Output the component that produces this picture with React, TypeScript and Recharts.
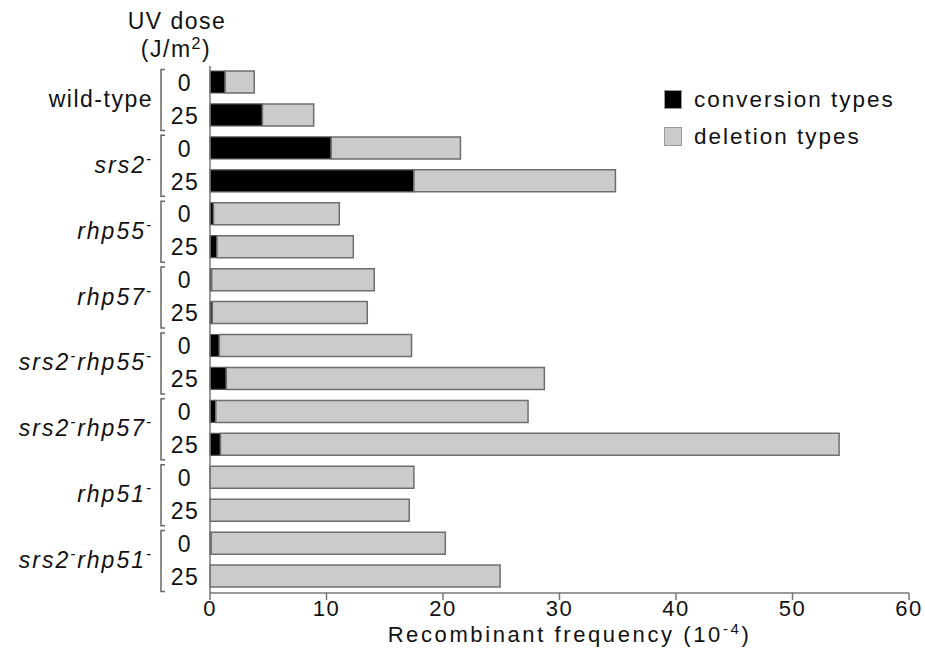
import React from "react";
import { Bar, BarChart, Legend, XAxis, YAxis } from "recharts";

// strain names, "^" marks a superscript minus
const strains = ["wild-type", "srs2^", "rhp55^", "rhp57^", "srs2^rhp55^", "srs2^rhp57^", "rhp51^", "srs2^rhp51^"];
const doses = ["0", "25"];

// one value per bar, in order strain x dose
const conversion = [1.3, 4.5, 10.4, 17.5, 0.3, 0.6, 0.15, 0.2, 0.8, 1.4, 0.5, 0.9, 0, 0, 0.1, 0];
const deletion = [2.5, 4.4, 11.1, 17.3, 10.8, 11.7, 13.95, 13.3, 16.5, 27.3, 26.8, 53.1, 17.5, 17.1, 20.1, 24.9];

const xTicks = [0, 10, 20, 30, 40, 50, 60];

const FONT = "'Liberation Sans', Arial, Helvetica, sans-serif";
const FRAME = "#777";

const data = strains.flatMap((s, i) =>
  doses.map((d, j) => {
    const k = i * doses.length + j;
    return { id: `${i}-${d}`, strain: s, dose: d, conversion: conversion[k], deletion: deletion[k] };
  })
);

function StrainText({ label, x, y }: { label: string; x: number; y: number }) {
  const italic = label !== "wild-type";
  const parts = italic ? label.split("^") : [label];
  const spans: React.ReactNode[] = [];
  let raised = false;
  parts.forEach((p, i) => {
    if (p) {
      spans.push(<tspan key={`t${i}`} dy={raised ? 9 : undefined}>{p}</tspan>);
      raised = false;
    }
    if (italic && i < parts.length - 1) {
      spans.push(<tspan key={`s${i}`} dy={-9} fontSize={15}>-</tspan>);
      raised = true;
    }
  });
  return (
    <text x={x} y={y + 8} textAnchor="end" fontFamily={FONT} fontSize={23} letterSpacing={italic ? 2 : 1.5}
      fontStyle={italic ? "italic" : "normal"} fill="#111">
      {spans}
    </text>
  );
}

function DoseTick(props: any) {
  const { x, y, payload } = props;
  const row = data.find((r) => r.id === payload.value);
  if (!row) return null;
  const left = x;
  return (
    <g>
      <text x={left - 25} y={y} dy="0.36em" textAnchor="middle" fontFamily={FONT} fontSize={23} letterSpacing={1.5} fill="#111">
        {row.dose}
      </text>
      {row.dose === doses[0] && (
        <g>
          <path d={`M${left - 45},${y - 13} H${left - 49} V${y + 48} H${left - 45}`} fill="none" stroke="#666" strokeWidth={1.5} />
          <StrainText label={row.strain} x={left - 57} y={y + 16.5} />
        </g>
      )}
    </g>
  );
}

function LegendBox(props: any) {
  const items = props.payload || [];
  return (
    <div style={{ fontFamily: FONT, fontSize: 22.5, letterSpacing: 2, color: "#111" }}>
      {items.map((it: any) => (
        <div key={it.value} style={{ display: "flex", alignItems: "center", height: 37 }}>
          <span style={{ width: 16, height: 17, background: it.color, border: "1px solid #999", marginRight: 12 }} />
          <span>{it.value}</span>
        </div>
      ))}
    </div>
  );
}

function XLabel(props: any) {
  const { viewBox } = props;
  const cx = viewBox.x + viewBox.width / 2 + 10;
  return (
    <text x={cx} y={634} dy="0.35em" textAnchor="middle" fontFamily={FONT} fontSize={22} letterSpacing={2.6} fill="#111">
      Recombinant frequency (10
      <tspan dy={-8} fontSize={15}>-4</tspan>
      <tspan dy={8}>)</tspan>
    </text>
  );
}

export default function App() {
  return (
    <div style={{ position: "absolute", left: 0, top: 0, background: "#fff" }}>
      <svg width={925} height={66} style={{ position: "absolute", left: 0, top: 0 }}>
        <text x={177} y={21} dy="0.35em" textAnchor="middle" fontFamily={FONT} fontSize={23} letterSpacing={1.5} fill="#111">
          UV dose
        </text>
        <text x={176} y={49} dy="0.35em" textAnchor="middle" fontFamily={FONT} fontSize={23} letterSpacing={1.5} fill="#111">
          (J/m<tspan dy={-8} fontSize={16}>2</tspan><tspan dy={8}>)</tspan>
        </text>
      </svg>
      <BarChart
        width={925}
        height={664}
        data={data}
        layout="vertical"
        margin={{ top: 66, right: 16, bottom: 11, left: 10 }}
        barSize={22}
      >
        <XAxis
          type="number"
          domain={[0, 60]}
          ticks={xTicks}
          tickSize={7}
          tickMargin={0}
          height={60}
          axisLine={{ stroke: FRAME, strokeWidth: 1.5 }}
          tickLine={{ stroke: FRAME, strokeWidth: 1.5 }}
          tick={{ fontFamily: FONT, fontSize: 22, fill: "#111", letterSpacing: 1.5 }}
          label={<XLabel />}
        />
        <XAxis
          xAxisId="top"
          orientation="top"
          type="number"
          domain={[0, 60]}
          height={0}
          tick={false}
          tickLine={false}
          axisLine={{ stroke: FRAME, strokeWidth: 1.5 }}
        />
        <YAxis
          type="category"
          dataKey="id"
          width={200}
          interval={0}
          tickSize={0}
          tickMargin={0}
          tickLine={false}
          axisLine={{ stroke: FRAME, strokeWidth: 1.5 }}
          tick={<DoseTick />}
        />
        <YAxis
          yAxisId="right"
          orientation="right"
          type="category"
          dataKey="id"
          width={0}
          tick={false}
          tickLine={false}
          axisLine={{ stroke: FRAME, strokeWidth: 1.5 }}
        />
        <Legend
          layout="vertical"
          align="center"
          verticalAlign="middle"
          content={<LegendBox />}
          wrapperStyle={{ left: 664, top: 81, width: 255 }}
        />
        <Bar dataKey="conversion" name="conversion types" stackId="a" fill="#000" stroke="#555" strokeWidth={1.2} isAnimationActive={false} />
        <Bar dataKey="deletion" name="deletion types" stackId="a" fill="#cbcbcb" stroke="#6e6e6e" strokeWidth={1.5} isAnimationActive={false} />
      </BarChart>
    </div>
  );
}
